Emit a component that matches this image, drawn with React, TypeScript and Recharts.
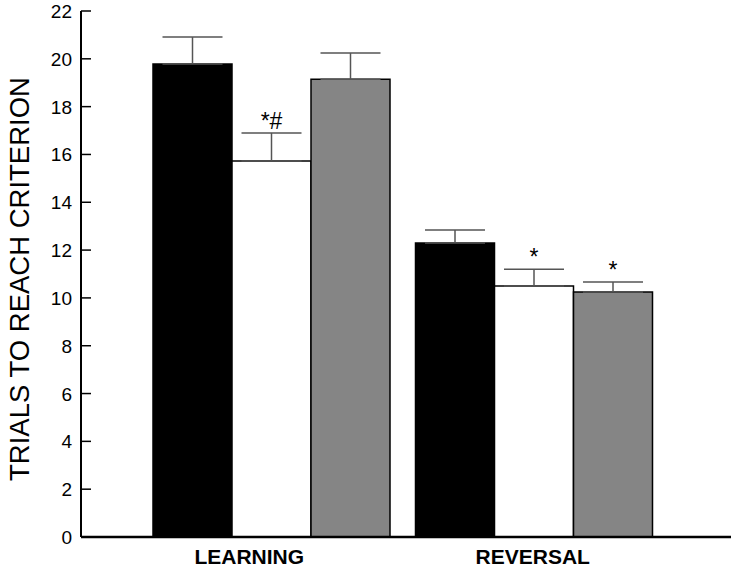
import { BarChart, Bar, XAxis, YAxis, ErrorBar, LabelList } from 'recharts';

const categories = ['LEARNING', 'REVERSAL'];

const blackMeans = [19.78, 12.3];
const blackErrs = [1.13, 0.54];
const whiteMeans = [15.73, 10.5];
const whiteErrs = [1.17, 0.7];
const grayMeans = [19.15, 10.25];
const grayErrs = [1.09, 0.42];

const whiteNotes = ['*#', '*'];
const grayNotes = ['', '*'];

const yTicks = [0, 2, 4, 6, 8, 10, 12, 14, 16, 18, 20, 22];

// error bars only go up, like in the original figure
const data = categories.map((cat, i) => ({
  cat,
  black: blackMeans[i],
  blackErr: [0, blackErrs[i]],
  white: whiteMeans[i],
  whiteErr: [0, whiteErrs[i]],
  whiteNote: whiteNotes[i],
  gray: grayMeans[i],
  grayErr: [0, grayErrs[i]],
  grayNote: grayNotes[i],
}));

const FONT = '"Liberation Sans", Arial, sans-serif';

const YTick = ({ x, y, payload }: any) => (
  <g>
    <line x1={x + 8} x2={x + 18} y1={y} y2={y} stroke="#000" strokeWidth={1.5} />
    <text x={x - 1} y={y} dy={7} textAnchor="end" fontSize={19} fill="#000" fontFamily={FONT}>
      {payload.value}
    </text>
  </g>
);

const XTick = ({ x, y, payload, index }: any) => {
  const shift = index === 0 ? -22 : -1;
  return (
    <text x={x + shift} y={y} dy={19} textAnchor="middle" fontSize={21} fontWeight="bold" fill="#000" fontFamily={FONT}>
      {payload.value}
    </text>
  );
};

// note sits just above the error cap; px per unit comes from the bar's own height
const NoteLabel = (means: number[], errs: number[]) => (props: any) => {
  const { x, y, width, height, value, index } = props;
  if (!value) return null;
  const pxPerUnit = height / means[index];
  const top = y - errs[index] * pxPerUnit;
  return (
    <text x={x + width / 2} y={top - 4} textAnchor="middle" fontSize={23} fill="#000" fontFamily={FONT}>
      {value}
    </text>
  );
};

const YLabel = ({ viewBox }: any) => {
  const cx = 19;
  const cy = viewBox.y + viewBox.height / 2 + 5;
  return (
    <text
      x={cx}
      y={cy}
      transform={`rotate(-90, ${cx}, ${cy})`}
      textAnchor="middle"
      dominantBaseline="central"
      fontSize={27.5}
      fill="#000"
      fontFamily={FONT}
    >
      TRIALS TO REACH CRITERION
    </text>
  );
};

export default function App() {
  return (
    <div style={{ position: 'absolute', left: 0, top: 0, background: '#fff' }}>
      <BarChart
        width={733}
        height={569}
        data={data}
        margin={{ top: 11, right: 2, left: 0, bottom: 0 }}
        barGap={0}
        barSize={79}
      >
        <XAxis
          dataKey="cat"
          height={32}
          tick={<XTick />}
          tickLine={false}
          axisLine={{ stroke: '#000', strokeWidth: 2.5 }}
          padding={{ left: 59, right: 66 }}
        />
        <YAxis
          width={81}
          domain={[0, 22]}
          ticks={yTicks}
          interval={0}
          tickSize={0}
          tickMargin={8}
          tickLine={false}
          tick={<YTick />}
          axisLine={{ stroke: '#000', strokeWidth: 2 }}
          label={<YLabel />}
        />
        <Bar dataKey="black" fill="#000" stroke="#000" strokeWidth={1.5} isAnimationActive={false}>
          <ErrorBar dataKey="blackErr" width={30} stroke="#555" strokeWidth={1.5} direction="y" />
        </Bar>
        <Bar dataKey="white" fill="#fff" stroke="#000" strokeWidth={1.5} isAnimationActive={false}>
          <ErrorBar dataKey="whiteErr" width={30} stroke="#555" strokeWidth={1.5} direction="y" />
          <LabelList dataKey="whiteNote" content={NoteLabel(whiteMeans, whiteErrs)} />
        </Bar>
        <Bar dataKey="gray" fill="#858585" stroke="#000" strokeWidth={1.5} isAnimationActive={false}>
          <ErrorBar dataKey="grayErr" width={30} stroke="#555" strokeWidth={1.5} direction="y" />
          <LabelList dataKey="grayNote" content={NoteLabel(grayMeans, grayErrs)} />
        </Bar>
      </BarChart>
    </div>
  );
}
